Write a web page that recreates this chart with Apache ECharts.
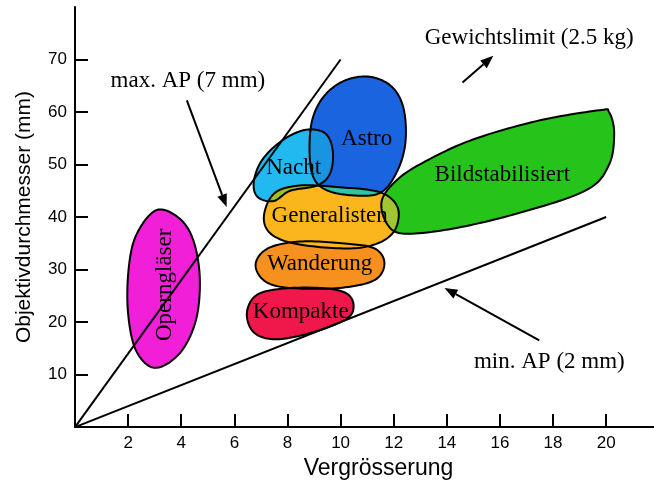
<!DOCTYPE html>
<html><head><meta charset="utf-8">
<script src="https://cdn.jsdelivr.net/npm/echarts@6/dist/echarts.min.js"></script>
<style>html,body{margin:0;padding:0;background:#fff}#c{width:654px;height:485px}</style>
</head><body><div id="c"></div>
<script>
// Axis ticks
const xTicks = [2,4,6,8,10,12,14,16,18,20];
const yTicks = [10,20,30,40,50,60,70];

// Exit-pupil limit lines (x = magnification, y = objective diameter)
const maxApLine = [[0,0],[10,70]];
const minApLine = [[0,0],[20,40]];

// Blob outlines (magnification, objective mm)
const opernOutline = [[3.08,41.35],[3.95,39.66],[4.47,35.34],[4.70,28.2],[4.55,20.3],[3.95,14.1],[3.01,11.28],[2.29,14.66],[1.99,22.18],[2.03,30.64],[2.33,36.84]];
const kompakteOutline = [[6.47,21.62],[6.80,25.0],[7.71,26.32],[9.21,26.5],[10.19,25.56],[10.49,23.12],[10.19,20.49],[8.83,17.86],[7.52,16.73],[6.73,18.05]];
const wanderungOutline = [[6.80,31.02],[7.26,34.02],[8.46,35.34],[10.15,34.96],[11.28,34.02],[11.65,31.2],[11.28,28.0],[9.96,26.5],[8.08,26.5],[7.14,27.82]];
const generalistenOutline = [[7.11,40.04],[7.50,44.5],[8.46,46.0],[9.96,45.68],[11.47,44.74],[12.14,41.92],[12.07,37.78],[11.47,35.15],[10.34,34.02],[8.46,34.77],[7.41,36.65]];
const nachtOutline = [[6.73,46.62],[7.03,50.75],[7.78,54.51],[8.65,56.58],[9.40,56.02],[9.70,52.82],[9.62,48.5],[9.14,46.05],[8.10,45.0],[7.48,43.05],[6.88,43.8]];
const astroOutline = [[8.83,53.2],[8.95,58.83],[9.40,63.16],[10.15,65.98],[11.09,66.73],[11.92,64.85],[12.37,60.71],[12.44,54.14],[12.11,48.5],[11.47,44.55],[10.34,44.17],[9.40,45.3],[8.95,47.93]];
const bildOutline = [[11.54,42.86],[12.03,46.62],[12.97,50.0],[14.85,54.51],[17.37,58.27],[19.74,60.34],[20.11,59.96],[20.30,56.02],[20.11,50.0],[19.25,45.11],[16.73,40.79],[14.21,37.78],[12.41,36.84],[11.77,38.53]];

const blobNames = ['Operngläser','Kompakte','Wanderung','Generalisten','Bildstabilisiert','Astro','Nacht'];
const blobOutlines = [opernOutline,kompakteOutline,wanderungOutline,generalistenOutline,bildOutline,astroOutline,nachtOutline];
const blobColors = ['#f21fd8','#f0184a','#f6901e','#fbb61e','#26c41a','#1a64e0','#22b8f0'];
const blobLabelPos = [[3.38,27.1],[8.5,22.0],[9.21,31.0],[9.59,40.2],[16.09,48.1],[10.98,54.9],[8.23,49.4]];
const blobLabelRot = [90,0,0,0,0,0,0];

// Overlap tints: [subject blob, clipping blob, colour of their intersection]
const overlapPairs = [[6,5,'#1894e0'],[5,3,'#2ec4a4'],[6,3,'#9ec21e'],[4,3,'#a2c632']];

// Annotations
const noteTexts = ['max. AP (7 mm)','Gewichtslimit (2.5 kg)','min. AP (2 mm)'];
const notePos = [[4.25,66.0],[17.1,74.2],[17.86,12.4]];
const arrowStarts = [[4.21,62.2],[14.59,65.6],[17.48,16.5]];
const arrowEnds = [[5.71,41.9],[15.75,70.7],[13.91,26.5]];

const serif = "'Liberation Serif','Times New Roman',serif";
const sans = "'Liberation Sans',Arial,Helvetica,sans-serif";

// closed Catmull-Rom sampling in pixel space
function sampleCurve(P) {
  const n = P.length, out = [], steps = 14;
  for (let i = 0; i < n; i++) {
    const p0 = P[(i-1+n)%n], p1 = P[i], p2 = P[(i+1)%n], p3 = P[(i+2)%n];
    for (let s = 0; s < steps; s++) {
      const t = s/steps, t2 = t*t, t3 = t2*t;
      const f = k => 0.5*((2*p1[k]) + (-p0[k]+p2[k])*t + (2*p0[k]-5*p1[k]+4*p2[k]-p3[k])*t2 + (-p0[k]+3*p1[k]-3*p2[k]+p3[k])*t3);
      out.push([f(0), f(1)]);
    }
  }
  return out;
}
function area(P){let a=0;for(let i=0;i<P.length;i++){const p=P[i],q=P[(i+1)%P.length];a+=p[0]*q[1]-q[0]*p[1];}return a/2;}
// Sutherland-Hodgman (clip polygon assumed near-convex)
function clipPoly(subject, clip) {
  const sgn = area(clip) > 0 ? 1 : -1;
  let out = subject;
  for (let i = 0; i < clip.length && out.length; i++) {
    const A = clip[i], B = clip[(i+1)%clip.length];
    const side = p => (B[0]-A[0])*(p[1]-A[1]) - (B[1]-A[1])*(p[0]-A[0]);
    const inside = p => sgn*side(p) >= 0;
    const inter = (p,q) => { const a1 = side(p), a2 = side(q), t = a1/(a1-a2);
      return [p[0]+(q[0]-p[0])*t, p[1]+(q[1]-p[1])*t]; };
    const inp = out; out = [];
    for (let j = 0; j < inp.length; j++) {
      const cur = inp[j], prev = inp[(j-1+inp.length)%inp.length];
      const ci = inside(cur), pi = inside(prev);
      if (ci) { if (!pi) out.push(inter(prev,cur)); out.push(cur); }
      else if (pi) out.push(inter(prev,cur));
    }
  }
  return out;
}
function blobPixels(api, i) { return sampleCurve(blobOutlines[i].map(p=>api.coord(p))); }

function blobSeries(kind, indices, z) {
  return {
    type:'custom', coordinateSystem:'cartesian2d', silent:true, clip:false, z:z,
    data: indices.map(i=>[blobLabelPos[i][0], blobLabelPos[i][1], i]),
    encode:{x:0,y:1},
    renderItem:(params, api)=>{
      const i = api.value(2);
      return {type:'polygon', shape:{points:blobPixels(api,i)},
        style: kind==='line' ? {fill:'none', stroke:'#000', lineWidth:2, lineJoin:'round'}
                             : {fill:blobColors[i]}};
    }
  };
}

const overlapSeries = {
  type:'custom', coordinateSystem:'cartesian2d', silent:true, clip:false, z:2,
  data: overlapPairs.map((pr,k)=>[blobLabelPos[pr[0]][0], blobLabelPos[pr[0]][1], k]), encode:{x:0,y:1},
  renderItem:(params, api)=>{
    const pr = overlapPairs[api.value(2)];
    const pts = clipPoly(blobPixels(api,pr[0]), blobPixels(api,pr[1]));
    if (pts.length < 3) return null;
    return {type:'polygon', shape:{points:pts}, style:{fill:pr[2]}};
  }
};

const chart = echarts.init(document.getElementById('c'), null, {renderer:'canvas'});
const axisCommon = {
  type:'value', splitLine:{show:false},
  axisLine:{show:true, lineStyle:{color:'#000', width:2}},
  axisTick:{show:true, inside:true, length:13, lineStyle:{color:'#000', width:2}},
  axisLabel:{color:'#000', fontSize:17, fontFamily:sans, margin:8},
  nameLocation:'middle'
};
chart.setOption({
  animation:false,
  backgroundColor:'#fff',
  grid:{left:75, right:0, top:7, bottom:52},
  xAxis: Object.assign({}, axisCommon, {min:0, max:21.8, interval:2,
    axisTick:Object.assign({}, axisCommon.axisTick, {customValues:xTicks}),
    axisLabel:Object.assign({}, axisCommon.axisLabel, {customValues:xTicks}),
    name:'Vergrösserung', nameGap:25,
    nameTextStyle:{color:'#000', fontSize:23, fontFamily:sans, padding:[0,0,0,28]}}),
  yAxis: Object.assign({}, axisCommon, {min:0, max:80, interval:10,
    axisTick:Object.assign({}, axisCommon.axisTick, {customValues:yTicks}),
    axisLabel:Object.assign({}, axisCommon.axisLabel, {customValues:yTicks}),
    name:'Objektivdurchmesser (mm)', nameGap:40,
    nameTextStyle:{color:'#000', fontSize:21, fontFamily:sans}}),
  series:[
    blobSeries('fill',[0,1,2,3,4,5,6],1),
    overlapSeries,
    {type:'custom', coordinateSystem:'cartesian2d', silent:true, clip:false, z:3,
     data: blobLabelPos.map((p,i)=>[p[0],p[1],i]), encode:{x:0,y:1},
     renderItem:(params, api)=>{
       const i = api.value(2);
       const c = api.coord([api.value(0), api.value(1)]);
       return {type:'text', x:c[0], y:c[1], rotation: blobLabelRot[i]*Math.PI/180,
         style:{text:blobNames[i], font:'23px '+serif, fill:'#000', align:'center', verticalAlign:'middle'}};
     }},
    blobSeries('line',[0,1,2,3,4,5,6],4),
    {type:'line', data:maxApLine, symbol:'none', lineStyle:{color:'#000', width:2}, z:5, silent:true},
    {type:'line', data:minApLine, symbol:'none', lineStyle:{color:'#000', width:2}, z:5, silent:true},
    {type:'custom', coordinateSystem:'cartesian2d', silent:true, clip:false, z:6,
     data: notePos.map((p,i)=>[p[0],p[1],i]), encode:{x:0,y:1},
     renderItem:(params, api)=>{
       const i = api.value(2);
       const c = api.coord([api.value(0), api.value(1)]);
       const s = api.coord(arrowStarts[i]);
       const e = api.coord(arrowEnds[i]);
       const dx = e[0]-s[0], dy = e[1]-s[1];
       const L = Math.sqrt(dx*dx+dy*dy);
       const ux = dx/L, uy = dy/L;
       const hl = 13, hw = 5;
       const bx = e[0]-ux*hl, by = e[1]-uy*hl;
       return {type:'group', children:[
         {type:'text', x:c[0], y:c[1], style:{text:noteTexts[i], font:'23px '+serif, fill:'#000', align:'center', verticalAlign:'middle'}},
         {type:'line', shape:{x1:s[0], y1:s[1], x2:bx, y2:by}, style:{stroke:'#000', lineWidth:2}},
         {type:'polygon', shape:{points:[[e[0],e[1]],[bx-uy*hw,by+ux*hw],[bx+uy*hw,by-ux*hw]]}, style:{fill:'#000'}}
       ]};
     }}
  ]
});
</script></body></html>
